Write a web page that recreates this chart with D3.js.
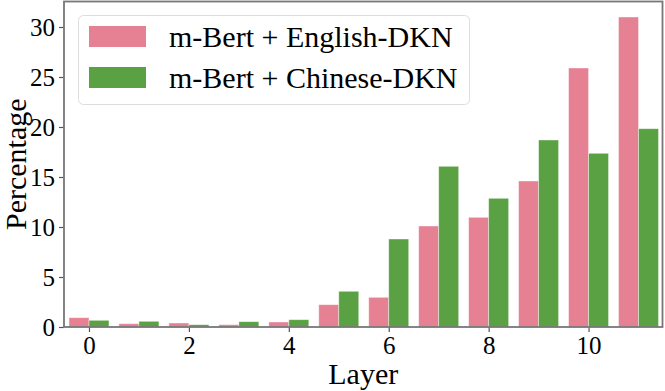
<!DOCTYPE html>
<html>
<head>
<meta charset="utf-8">
<title>Layer percentage</title>
<script src="https://d3js.org/d3.v7.min.js"></script>
<style>
  body { margin: 0; background: white; }
  text { font-family: "Liberation Serif", "Times New Roman", serif; fill: #000; }
</style>
</head>
<body>
<svg id="chart" width="665" height="391"></svg>
<script>
// data
var layers = [0, 1, 2, 3, 4, 5, 6, 7, 8, 9, 10, 11];
var english = [0.93, 0.33, 0.40, 0.23, 0.50, 2.23, 2.97, 10.1, 10.97, 14.6, 25.9, 31.0];
var chinese = [0.67, 0.57, 0.23, 0.53, 0.73, 3.57, 8.8, 16.07, 12.87, 18.7, 17.37, 19.83];
var seriesNames = ["m-Bert + English-DKN", "m-Bert + Chinese-DKN"];
var colors = ["#e68093", "#59a142"];
var xTicks = [0, 2, 4, 6, 8, 10];
var yTicks = [0, 5, 10, 15, 20, 25, 30];

var serif = "'Liberation Serif', 'Times New Roman', serif";

var margin = {top: 1.5, right: 2.5, bottom: 64, left: 64};
var W = 665, H = 391;
var width = W - margin.left - margin.right,
    height = H - margin.top - margin.bottom;

var svg = d3.select("#chart");
var g = svg.append("g").attr("transform", "translate(" + margin.left + "," + margin.top + ")");

var x = d3.scaleLinear().domain([-0.5, 11.48]).range([0, width]);
var y = d3.scaleLinear().domain([0, 32.55]).range([height, 0]);

var barW = 0.4;
var series = [english, chinese];

series.forEach(function(vals, s) {
  g.append("g").selectAll("rect")
    .data(vals)
    .enter()
    .append("rect")
    .attr("x", function(d, i) { return x(layers[i] - barW + s * barW); })
    .attr("y", function(d) { return y(d); })
    .attr("width", x(barW) - x(0))
    .attr("height", function(d) { return y(0) - y(d); })
    .attr("fill", colors[s])
    .attr("stroke", "white")
    .attr("stroke-opacity", 0.5)
    .attr("stroke-width", 0.8);
});

// axes
var xAxis = g.append("g")
  .attr("transform", "translate(0," + height + ")")
  .call(d3.axisBottom(x).tickValues(xTicks).tickSize(5).tickPadding(4).tickFormat(d3.format("d")));
var yAxis = g.append("g")
  .call(d3.axisLeft(y).tickValues(yTicks).tickSize(5).tickPadding(4).tickFormat(d3.format("d")));

[xAxis, yAxis].forEach(function(a) {
  a.attr("font-family", serif).attr("font-size", 25);
  a.select(".domain").remove();
  a.selectAll(".tick line").attr("stroke", "#555").attr("stroke-width", 1.2);
  a.selectAll(".tick text").style("font-family", serif).style("font-size", "25px").attr("fill", "#000");
});

// frame
g.append("rect")
  .attr("x", 0).attr("y", 0)
  .attr("width", width).attr("height", height)
  .attr("fill", "none")
  .attr("stroke", "#777")
  .attr("stroke-width", 1.8);

// axis labels
svg.append("text")
  .attr("x", margin.left + width / 2)
  .attr("y", 384)
  .attr("text-anchor", "middle")
  .style("font-family", serif)
  .style("font-size", "30px")
  .text("Layer");

svg.append("text")
  .attr("transform", "translate(26," + (margin.top + height / 2) + ")rotate(-90)")
  .attr("text-anchor", "middle")
  .style("font-family", serif)
  .style("font-size", "30px")
  .text("Percentage");

// legend
var legend = svg.append("g");
legend.append("rect")
  .attr("x", 78.5).attr("y", 15.5)
  .attr("width", 391).attr("height", 89)
  .attr("rx", 5)
  .attr("fill", "white")
  .attr("fill-opacity", 0.8)
  .attr("stroke", "#ddd")
  .attr("stroke-width", 1);

seriesNames.forEach(function(name, i) {
  var yy = 26 + i * 41;
  legend.append("rect")
    .attr("x", 89).attr("y", yy)
    .attr("width", 57).attr("height", 21)
    .attr("fill", colors[i]);
  legend.append("text")
    .attr("x", 169).attr("y", yy + 21)
    .style("font-family", serif)
    .style("font-size", "30px")
    .text(name);
});
</script>
</body>
</html>
